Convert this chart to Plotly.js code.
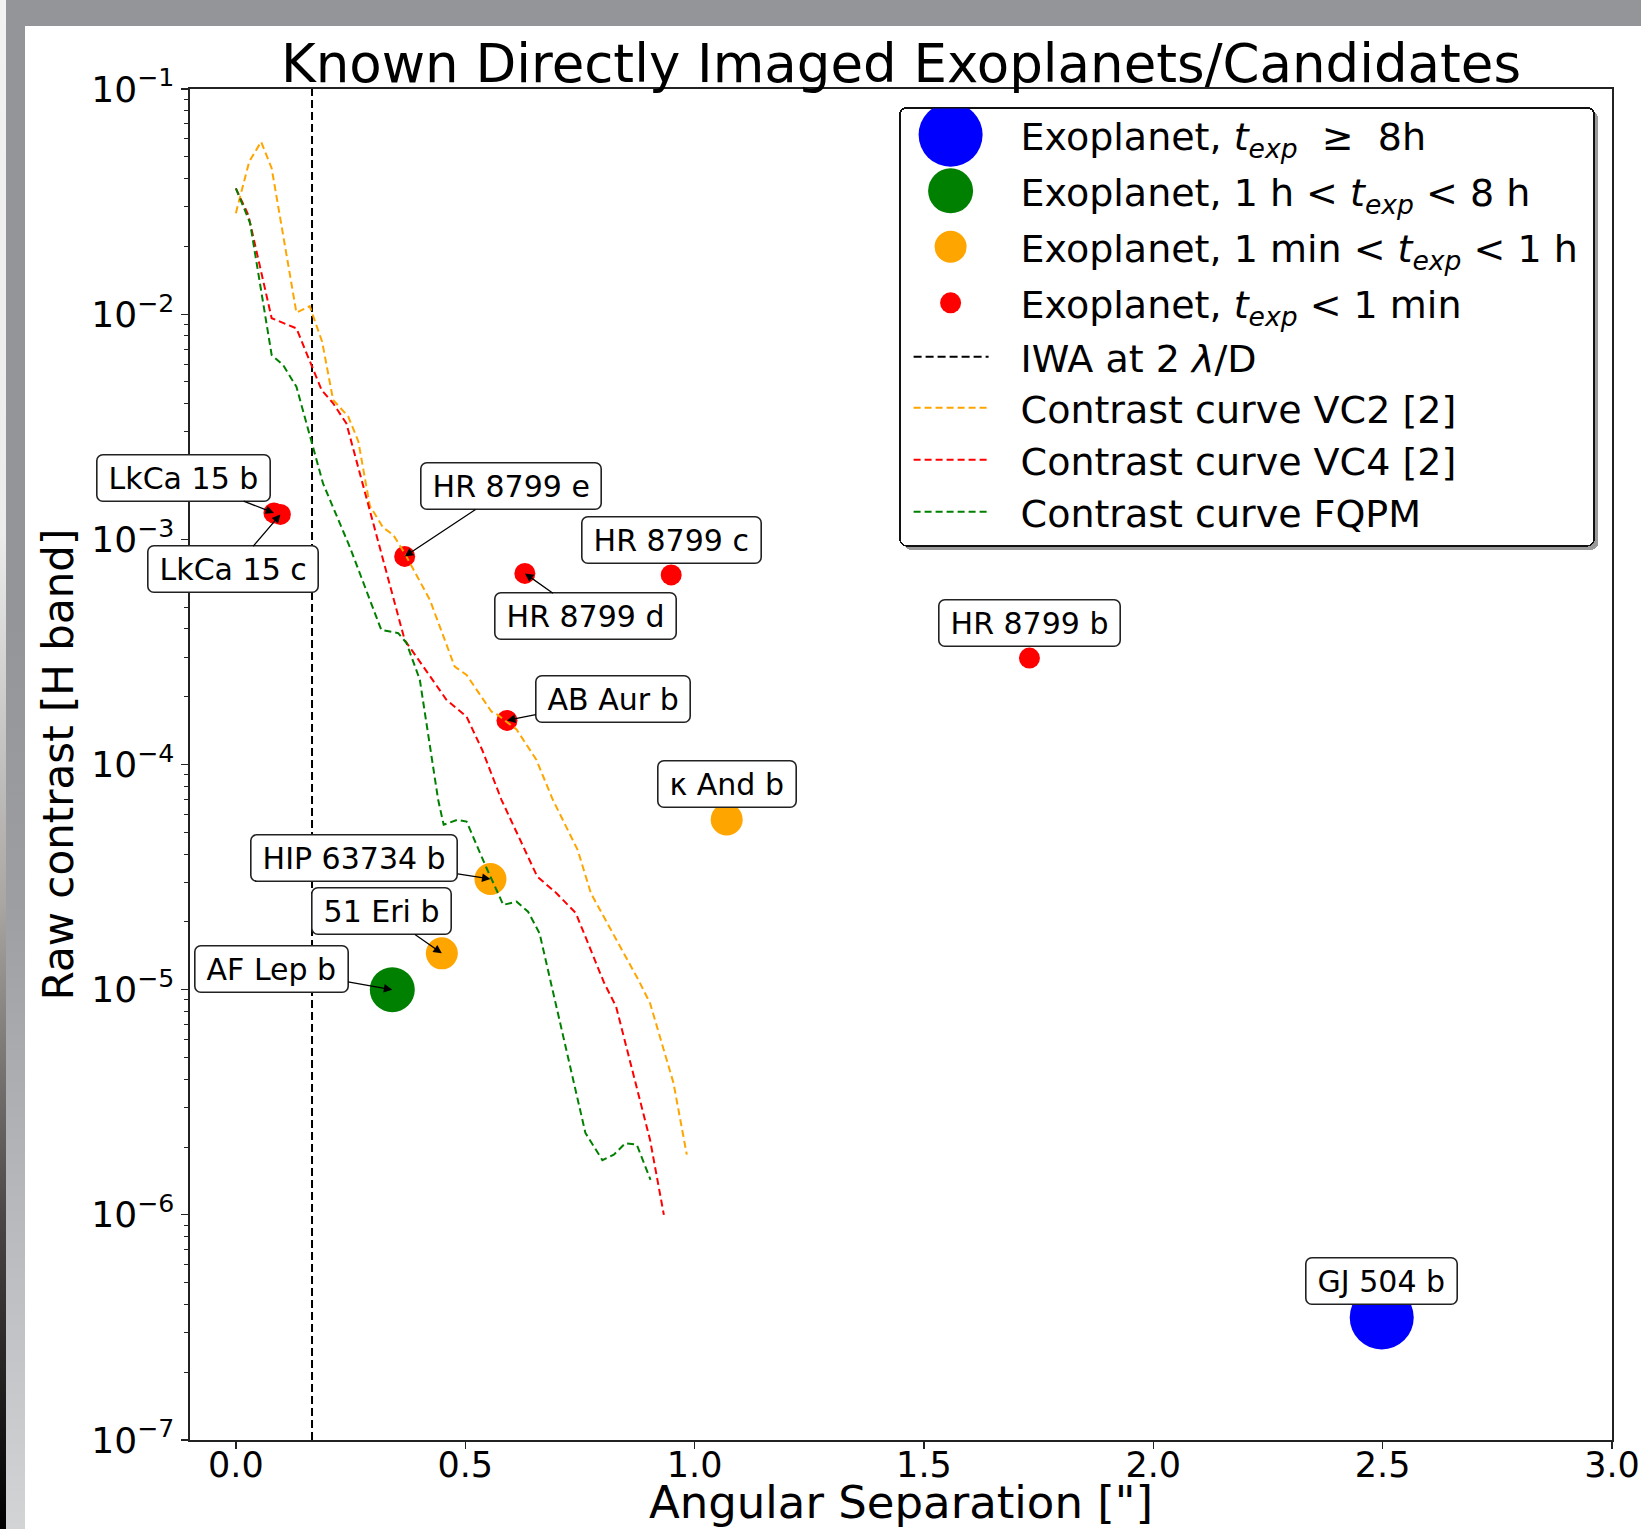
<!DOCTYPE html>
<html>
<head>
<meta charset="utf-8">
<script src="https://cdn.plot.ly/plotly-3.0.1.min.js"></script>
<style>
html,body{margin:0;padding:0;width:1641px;height:1529px;overflow:hidden;background:#fff;}
#topbar{position:absolute;left:0;top:0;width:1641px;height:26px;background:#939598;}
#leftA{position:absolute;left:0;top:0;width:6px;height:1529px;background:linear-gradient(#f2f2f2 0%,#ececec 35%,#a9a6a3 59%,#4a4544 80%,#000 100%);}
#leftB{position:absolute;left:6px;top:0;width:19px;height:1529px;background:linear-gradient(#939598 0%,#939598 40%,#9c9ea2 59%,#d3d4d6 100%);}
#chart{position:absolute;left:0;top:0;width:1641px;height:1529px;}
</style>
</head>
<body>
<div id="topbar"></div>
<div id="leftB"></div>
<div id="leftA"></div>
<div id="chart"></div>
<script>
// ---------------- data ----------------
// Exoplanets, t_exp >= 8h
const blueNames = ['GJ 504 b'];
const blueSep = [2.498];
const blueContrast = [3.5e-7];
// Exoplanets, 1 h < t_exp < 8 h
const greenNames = ['AF Lep b'];
const greenSep = [0.341];
const greenContrast = [1.0e-5];
// Exoplanets, 1 min < t_exp < 1 h
const orangeNames = ['\u03ba And b', 'HIP 63734 b', '51 Eri b'];
const orangeSep = [1.070, 0.555, 0.449];
const orangeContrast = [5.7e-5, 3.1e-5, 1.45e-5];
// Exoplanets, t_exp < 1 min
const redNames = ['LkCa 15 b', 'LkCa 15 c', 'HR 8799 e', 'HR 8799 d', 'HR 8799 c', 'HR 8799 b', 'AB Aur b'];
const redSep = [0.083, 0.097, 0.368, 0.630, 0.949, 1.730, 0.591];
const redContrast = [1.31e-3, 1.29e-3, 8.4e-4, 7.06e-4, 6.95e-4, 2.97e-4, 1.57e-4];

// Inner working angle at 2 lambda/D
const iwaSep = 0.166;
const yAxisLimits = [1e-7, 1e-1];

// Contrast curve VC2 [2]
const vc2Sep = [0.0, 0.029, 0.055, 0.078, 0.132, 0.161, 0.188, 0.212, 0.245, 0.267, 0.292, 0.321, 0.343, 0.368, 0.423, 0.477, 0.503, 0.557, 0.571, 0.612, 0.655, 0.691, 0.745, 0.774, 0.878, 0.903, 0.954, 0.983];
const vc2Contrast = [0.0281, 0.0475, 0.0583, 0.0445, 0.01016, 0.01086, 0.00755, 0.00416, 0.00351, 0.00272, 0.00141, 0.001127, 0.001047, 8.67e-4, 5.38e-4, 2.72e-4, 2.50e-4, 1.72e-4, 1.66e-4, 1.43e-4, 1.05e-4, 6.97e-5, 4.18e-5, 2.68e-5, 1.10e-5, 8.7e-6, 3.85e-6, 1.85e-6];
// Contrast curve VC4 [2]
const vc4Sep = [0.0, 0.027, 0.078, 0.132, 0.187, 0.212, 0.241, 0.314, 0.368, 0.459, 0.503, 0.537, 0.579, 0.657, 0.699, 0.741, 0.803, 0.829, 0.878, 0.903, 0.933];
const vc4Contrast = [0.0362, 0.0276, 0.0096, 0.00865, 0.0046, 0.00402, 0.00327, 9.29e-4, 3.57e-4, 1.94e-4, 1.63e-4, 1.16e-4, 6.97e-5, 3.18e-5, 2.68e-5, 2.19e-5, 1.07e-5, 8.4e-6, 3.35e-6, 2.15e-6, 1.0e-6];
// Contrast curve FQPM
const fqpmSep = [0.0, 0.031, 0.078, 0.103, 0.132, 0.165, 0.190, 0.248, 0.317, 0.354, 0.372, 0.401, 0.441, 0.453, 0.483, 0.503, 0.545, 0.583, 0.612, 0.637, 0.662, 0.762, 0.799, 0.824, 0.849, 0.874, 0.904];
const fqpmContrast = [0.0362, 0.0254, 0.00659, 0.00594, 0.00476, 0.00267, 0.00177, 9.29e-4, 3.96e-4, 3.83e-4, 3.46e-4, 2.38e-4, 6.97e-5, 5.40e-5, 5.68e-5, 5.58e-5, 3.52e-5, 2.38e-5, 2.46e-5, 2.22e-5, 1.78e-5, 2.31e-6, 1.75e-6, 1.85e-6, 2.08e-6, 2.05e-6, 1.43e-6];

// Tick labels
const yTickVals = [1e-7, 1e-6, 1e-5, 1e-4, 1e-3, 1e-2, 1e-1];
const yTickText = ['10<sup>\u22127</sup>', '10<sup>\u22126</sup>', '10<sup>\u22125</sup>', '10<sup>\u22124</sup>', '10<sup>\u22123</sup>', '10<sup>\u22122</sup>', '10<sup>\u22121</sup>'];
const xTickVals = [0.0, 0.5, 1.0, 1.5, 2.0, 2.5, 3.0];
const xTickText = ['0.0', '0.5', '1.0', '1.5', '2.0', '2.5', '3.0'];

const legendLabels = [
  'Exoplanet, <i>t<sub>exp</sub></i>\u00a0\u00a0\u2265\u00a0\u00a08h',
  'Exoplanet, 1 h < <i>t<sub>exp</sub></i> < 8 h',
  'Exoplanet, 1 min < <i>t<sub>exp</sub></i> < 1 h',
  'Exoplanet, <i>t<sub>exp</sub></i> < 1 min',
  'IWA at 2 <i>\u03bb</i>/D',
  'Contrast curve VC2 [2]',
  'Contrast curve VC4 [2]',
  'Contrast curve FQPM'
];

// ---------------- styling / label placement (pixels) ----------------
const FONT = 'DejaVu Sans, Liberation Sans, sans-serif';
const labelPlacement = {
  'LkCa 15 b': {ax: -90, ay: -35},
  'LkCa 15 c': {ax: -47, ay: 55},
  'HR 8799 e': {ax: 106, ay: -70},
  'HR 8799 d': {ax: 61, ay: 43},
  'HR 8799 c': {above: 35},
  'HR 8799 b': {above: 35},
  'AB Aur b': {ax: 106, ay: -21},
  '\u03ba And b': {above: 35},
  'HIP 63734 b': {ax: -136, ay: -21},
  '51 Eri b': {ax: -60, ay: -42},
  'AF Lep b': {ax: -121, ay: -21},
  'GJ 504 b': {above: 36}
};

function markerTrace(sep, con, names, color, size, label) {
  return {
    type: 'scatter', mode: 'markers', x: sep, y: con, text: names,
    name: label, marker: {color: color, size: size, line: {width: 0}},
    hoverinfo: 'text'
  };
}
function curveTrace(sep, con, color, label, dash) {
  return {
    type: 'scatter', mode: 'lines', x: sep, y: con, name: label,
    line: {color: color, width: 2, dash: dash}
  };
}

const traces = [
  markerTrace(blueSep, blueContrast, blueNames, '#0000ff', 64, legendLabels[0]),
  markerTrace(greenSep, greenContrast, greenNames, '#008000', 45, legendLabels[1]),
  markerTrace(orangeSep, orangeContrast, orangeNames, '#ffa500', 32, legendLabels[2]),
  markerTrace(redSep, redContrast, redNames, '#ff0000', 21, legendLabels[3]),
  curveTrace([iwaSep, iwaSep], yAxisLimits, '#000000', legendLabels[4], '8px,4px'),
  curveTrace(vc2Sep, vc2Contrast, '#ffa500', legendLabels[5], '7px,4px'),
  curveTrace(vc4Sep, vc4Contrast, '#ff0000', legendLabels[6], '7px,4px'),
  curveTrace(fqpmSep, fqpmContrast, '#008000', legendLabels[7], '7px,4px')
];

const annotations = [];
[[blueNames, blueSep, blueContrast], [greenNames, greenSep, greenContrast],
 [orangeNames, orangeSep, orangeContrast], [redNames, redSep, redContrast]].forEach(([nm, sx, cy]) => {
  nm.forEach((n, i) => {
    const p = labelPlacement[n];
    const a = {
      x: sx[i], y: Math.log10(cy[i]), xref: 'x', yref: 'y',
      text: '\u2009' + n + '\u2009',
      font: {family: FONT, size: 30, color: '#000'},
      bgcolor: '#ffffff', bordercolor: '#222', borderwidth: 1.6, borderpad: 5
    };
    if (p.above !== undefined) {
      a.showarrow = false; a.yshift = p.above; a.xanchor = 'center'; a.yanchor = 'middle';
    } else {
      a.showarrow = true; a.ax = p.ax; a.ay = p.ay; a.arrowhead = 2; a.arrowsize = 1.3;
      a.arrowwidth = 1.3; a.arrowcolor = '#000'; a.standoff = 0;
    }
    annotations.push(a);
  });
});

const minorVals = [];
for (let k = -7; k <= -2; k++) for (let m = 2; m <= 9; m++) minorVals.push(m * Math.pow(10, k));

const layout = {
  width: 1641, height: 1529,
  margin: {l: 190, r: 29, t: 89, b: 89, pad: 0},
  paper_bgcolor: 'rgba(0,0,0,0)', plot_bgcolor: '#ffffff',
  font: {family: FONT, color: '#000'},
  title: {text: 'Known Directly Imaged Exoplanets/Candidates', font: {family: FONT, size: 53, color: '#000'},
          x: 0.5, xref: 'paper', y: 1 - 63 / 1529, yref: 'container', yanchor: 'middle', xanchor: 'center'},
  xaxis: {
    range: [-0.1, 3.0], tickmode: 'array', tickvals: xTickVals, ticktext: xTickText,
    ticks: 'outside', ticklen: 7, tickwidth: 1.3, tickcolor: '#222', ticklabelstandoff: -14,
    showline: true, linecolor: '#222', linewidth: 1.6, mirror: true,
    showgrid: false, zeroline: false,
    tickfont: {family: FONT, size: 35, color: '#000'},
    title: {text: 'Angular Separation ["]', font: {family: FONT, size: 45, color: '#000'}, standoff: 17}
  },
  yaxis: {
    type: 'log', range: [-7, -1], tickmode: 'array', tickvals: yTickVals, ticktext: yTickText,
    ticks: 'outside', ticklen: 7, tickwidth: 1.3, tickcolor: '#222',
    minor: {tickvals: minorVals, ticks: 'outside', ticklen: 4, tickwidth: 1, tickcolor: '#222', showgrid: false},
    showline: true, linecolor: '#222', linewidth: 1.6, mirror: true,
    showgrid: false, zeroline: false,
    tickfont: {family: FONT, size: 36, color: '#000'},
    title: {text: 'Raw contrast [H band]', font: {family: FONT, size: 42, color: '#000'}, standoff: 4}
  },
  showlegend: true,
  legend: {
    x: (899 - 190) / 1422, y: (1440 - 107) / 1351, xanchor: 'left', yanchor: 'top',
    bgcolor: '#ffffff', bordercolor: '#111', borderwidth: 1.6,
    font: {family: FONT, size: 38, color: '#000'},
    itemsizing: 'trace', itemwidth: 110, tracegroupgap: 0
  },
  annotations: annotations
};

Plotly.newPlot('chart', traces, layout, {staticPlot: true}).then(function (gd) {
  const sizes = [64, 45, 32, 21];
  const rowOffsets = [0, 56, 112, 168, 222, 273, 325, 377];
  const items = gd.querySelectorAll('.legend .traces');
  let y0 = null;
  items.forEach(function (g, i) {
    // re-space legend rows
    const tr = g.getAttribute('transform') || '';
    const m = tr.match(/translate\(\s*([-\d.e]+)[ ,]+([-\d.e]+)\s*\)/);
    if (m) {
      const tx = parseFloat(m[1]), ty = parseFloat(m[2]);
      if (y0 === null) y0 = ty - 5;
      g.setAttribute('transform', 'translate(' + tx + ',' + (y0 + rowOffsets[i]) + ')');
    }
    // symbols
    if (i < 4) {
      const p = g.querySelector('.legendpoints path.scatterpts');
      if (p) {
        const r = sizes[i] / 2;
        p.setAttribute('d', 'M' + r + ',0A' + r + ',' + r + ' 0 1,1 0,-' + r + 'A' + r + ',' + r + ' 0 0,1 ' + r + ',0Z');
        p.setAttribute('transform', 'translate(50,0)');
      }
    } else {
      g.querySelectorAll('.legendlines path').forEach(function (lp) { lp.setAttribute('d', 'M13,0h75'); });
    }
  });
  const bg = gd.querySelector('.legend rect.bg');
  if (bg) {
    bg.setAttribute('height', 438);
    const w = parseFloat(bg.getAttribute('width'));
    if (!isNaN(w)) bg.setAttribute('width', w + 10);
    bg.setAttribute('rx', 7); bg.setAttribute('ry', 7);
    const sh = bg.cloneNode();
    sh.setAttribute('transform', 'translate(4,4)');
    sh.style.fill = '#9a9a9a'; sh.style.stroke = 'none';
    bg.parentNode.insertBefore(sh, bg);
  }
  gd.querySelectorAll('.legend clipPath rect').forEach(function (c) {
    c.setAttribute('height', 440);
    const w = parseFloat(c.getAttribute('width'));
    if (!isNaN(w)) c.setAttribute('width', w + 10);
  });
  gd.querySelectorAll('.annotation rect.bg').forEach(function (r) { r.setAttribute('rx', 6); r.setAttribute('ry', 6); });
});
</script>
</body>
</html>
